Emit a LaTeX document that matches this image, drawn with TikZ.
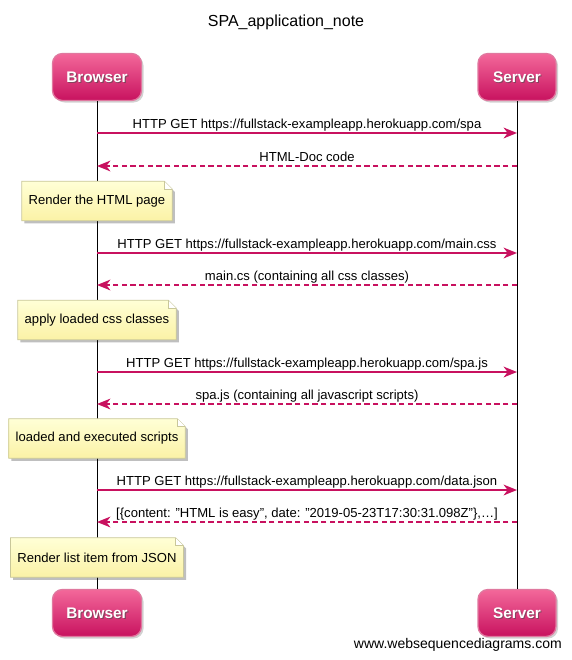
\documentclass[tikz,border=0pt]{standalone}
\usepackage{fontspec}
\setmainfont{Liberation Sans}
\usetikzlibrary{arrows.meta,shadows}
\definecolor{msgc}{HTML}{C8115F}
\definecolor{acttop}{HTML}{F3689A}
\definecolor{actbot}{HTML}{C8125F}
\definecolor{actborder}{HTML}{E0789F}
\definecolor{notetop}{HTML}{FFFFD6}
\definecolor{notebot}{HTML}{FBF2A6}
\definecolor{noteborder}{HTML}{C9C79A}
\tikzset{
  actor/.style={rounded corners=7.5pt, top color=acttop, bottom color=actbot,
    draw=actborder, line width=1pt, minimum width=66.75pt, minimum height=35.25pt,
    text=white, font=\fontsize{11.5}{13}\selectfont\bfseries,
    drop shadow={opacity=0.35, shadow xshift=1.5pt, shadow yshift=-1.5pt}},
  actshadow/.style={text=black!70, opacity=0.6, font=\fontsize{11.5}{13}\selectfont\bfseries},
  acttext/.style={text=white, font=\fontsize{11.5}{13}\selectfont\bfseries},
  lifeline/.style={draw=black, line width=0.75pt},
  req/.style={draw=msgc, line width=1.5pt, -{Stealth[length=10pt,width=8pt,inset=3pt]}},
  resp/.style={draw=msgc, line width=1.5pt, dash pattern=on 4pt off 2.5pt, -{Stealth[length=10pt,width=8pt,inset=3pt]}},
  msglabel/.style={font=\fontsize{9.8}{11}\selectfont, anchor=base, inner sep=0pt, yshift=3.6pt, text=black},
  notetext/.style={font=\fontsize{9.8}{11}\selectfont, inner xsep=5pt, minimum height=29.25pt},
  notefill/.style={top color=notetop, bottom color=notebot, draw=noteborder, line width=0.6pt},
  noteshadow/.style={fill=black, opacity=0.25},
}
\newcommand{\drawnote}[1]{%
  \fill[noteshadow] ([shift={(2pt,-2pt)}]#1.south west) -- ([shift={(2pt,-2pt)}]#1.south east) -- ([shift={(2pt,-8pt)}]#1.north east) -- ([shift={(-4pt,-2pt)}]#1.north east) -- ([shift={(2pt,-2pt)}]#1.north west) -- cycle;
  \path[notefill] (#1.south west) -- (#1.south east) -- ([yshift=-6pt]#1.north east) -- ([xshift=-6pt]#1.north east) -- (#1.north west) -- cycle;
  \draw[noteborder, fill=white, line width=0.6pt] ([xshift=-6pt]#1.north east) -- ([xshift=-6pt,yshift=-6pt]#1.north east) -- ([yshift=-6pt]#1.north east);
}
\begin{document}
\begin{tikzpicture}[x=0.75pt, y=-0.75pt]
\useasboundingbox (0,0) rectangle (571,660);
\fill[white] (0,0) rectangle (571,660);

\node[font=\fontsize{12}{14}\selectfont] (title) at (286,22) {SPA\_application\_note};

% actors
\node[actor] (b1) at (97,77) {\phantom{Browser}};
\node[actor, minimum width=58.5pt] (s1) at (517,77) {\phantom{Server}};
\node[actor] (b2) at (97,613) {\phantom{Browser}};
\node[actor, minimum width=58.5pt] (s2) at (517,613) {\phantom{Server}};
\foreach \n/\t in {b1/Browser,s1/Server,b2/Browser,s2/Server}{
  \node[actshadow] (\n sh) at ([shift={(0.8pt,-1pt)}]\n.center) {\t};
  \node[acttext] (\n tx) at (\n.center) {\t};
}

% lifelines
\draw[lifeline] (b1.south) -- (b2.north);
\draw[lifeline] (s1.south) -- (s2.north);

% message anchor coordinates
\foreach \i/\y in {1/133,2/166,3/253,4/285,5/372,6/404,7/490,8/522}{
  \coordinate (bl\i) at (97,\y);
  \coordinate (sl\i) at (517,\y);
}

\draw[req] (bl1) -- node[msglabel] (m1) {HTTP GET https://fullstack-exampleapp.herokuapp.com/spa} (sl1);
\draw[resp] (sl2) -- node[msglabel] (m2) {HTML-Doc code} (bl2);
\draw[req] (bl3) -- node[msglabel] (m3) {HTTP GET https://fullstack-exampleapp.herokuapp.com/main.css} (sl3);
\draw[resp] (sl4) -- node[msglabel] (m4) {main.cs (containing all css classes)} (bl4);
\draw[req] (bl5) -- node[msglabel] (m5) {HTTP GET https://fullstack-exampleapp.herokuapp.com/spa.js} (sl5);
\draw[resp] (sl6) -- node[msglabel] (m6) {spa.js (containing all javascript scripts)} (bl6);
\draw[req] (bl7) -- node[msglabel] (m7) {HTTP GET https://fullstack-exampleapp.herokuapp.com/data.json} (sl7);
\draw[resp] (sl8) -- node[msglabel] (m8) {[\{content: \symbol{34}HTML is easy\symbol{34}, date: \symbol{34}2019-05-23T17:30:31.098Z\symbol{34}\},…]} (bl8);

% notes
\node[notetext] (n1) at (97,201) {\phantom{Render the HTML page}};
\node[notetext] (n2) at (97,320) {\phantom{apply loaded css classes}};
\node[notetext] (n3) at (97,438.5) {\phantom{loaded and executed scripts}};
\node[notetext] (n4) at (97,557.5) {\phantom{Render list item from JSON}};
\drawnote{n1}\drawnote{n2}\drawnote{n3}\drawnote{n4}
\node[notetext] (n1t) at (n1.center) {Render the HTML page};
\node[notetext] (n2t) at (n2.center) {apply loaded css classes};
\node[notetext] (n3t) at (n3.center) {loaded and executed scripts};
\node[notetext] (n4t) at (n4.center) {Render list item from JSON};

\node[font=\fontsize{10.5}{12}\selectfont, anchor=east, inner sep=0pt] (foot) at (562,645) {www.websequencediagrams.com};
\end{tikzpicture}
\end{document}
